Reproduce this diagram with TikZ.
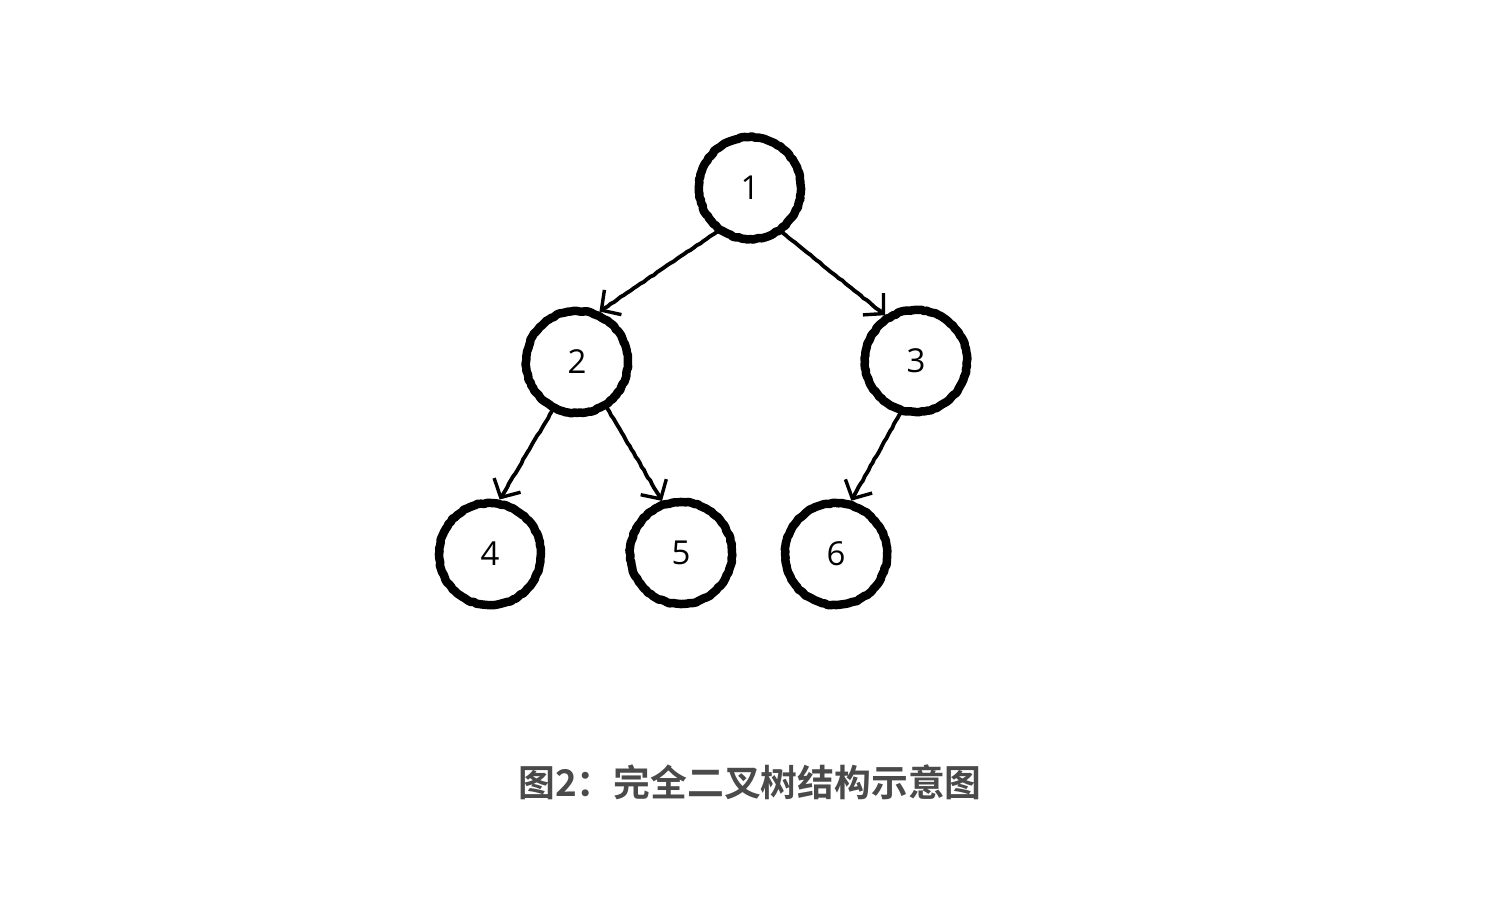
\documentclass[tikz,border=0pt]{standalone}
\usepackage{fontspec}
\usetikzlibrary{arrows.meta,decorations.pathmorphing}
\newfontfamily\digitfont{Open Sans}
\newfontfamily\cjkfont{Noto Sans CJK SC}[BoldFont={* Bold}]
\definecolor{captiongray}{HTML}{4A4A4A}
\tikzset{
  treenode/.style={circle, draw=black, line width=8.5pt, minimum size=102pt, inner sep=0pt,
    line join=round, line cap=round,
    font=\digitfont\fontsize{33}{33}\selectfont, text=black,
    decorate, decoration={random steps, segment length=3pt, amplitude=0.6pt}},
  edge/.style={line width=3.8pt, draw=black, line join=round, line cap=round,
    -{Straight Barb[length=14pt,width=30pt,line width=3.4pt]},
    decorate, decoration={random steps, segment length=4pt, amplitude=0.4pt}},
  caption/.style={font=\cjkfont\bfseries\fontsize{36.8}{36.8}\selectfont, text=captiongray}
}
\begin{document}
\begin{tikzpicture}[x=1pt,y=-1pt]
\useasboundingbox (0,0) rectangle (1500,916);
\fill[white] (0,0) rectangle (1500,916);
\node[treenode] (n1) at (750,188) {1};
\node[treenode] (n2) at (577,362) {2};
\node[treenode] (n3) at (916,361) {3};
\node[treenode] (n4) at (490,554) {4};
\node[treenode] (n5) at (681,553) {5};
\node[treenode] (n6) at (836,554) {6};
\draw[edge] (n1.233) -- (n2.66);
\draw[edge] (n1.306) -- (n3.124);
\draw[edge] (n2.243) -- (n4.80);
\draw[edge] (n2.303) -- (n5.110);
\draw[edge] (n3.253) -- (n6.74);
\node[caption] (cap) at (750,782) {图2：完全二叉树结构示意图};
\end{tikzpicture}
\end{document}
